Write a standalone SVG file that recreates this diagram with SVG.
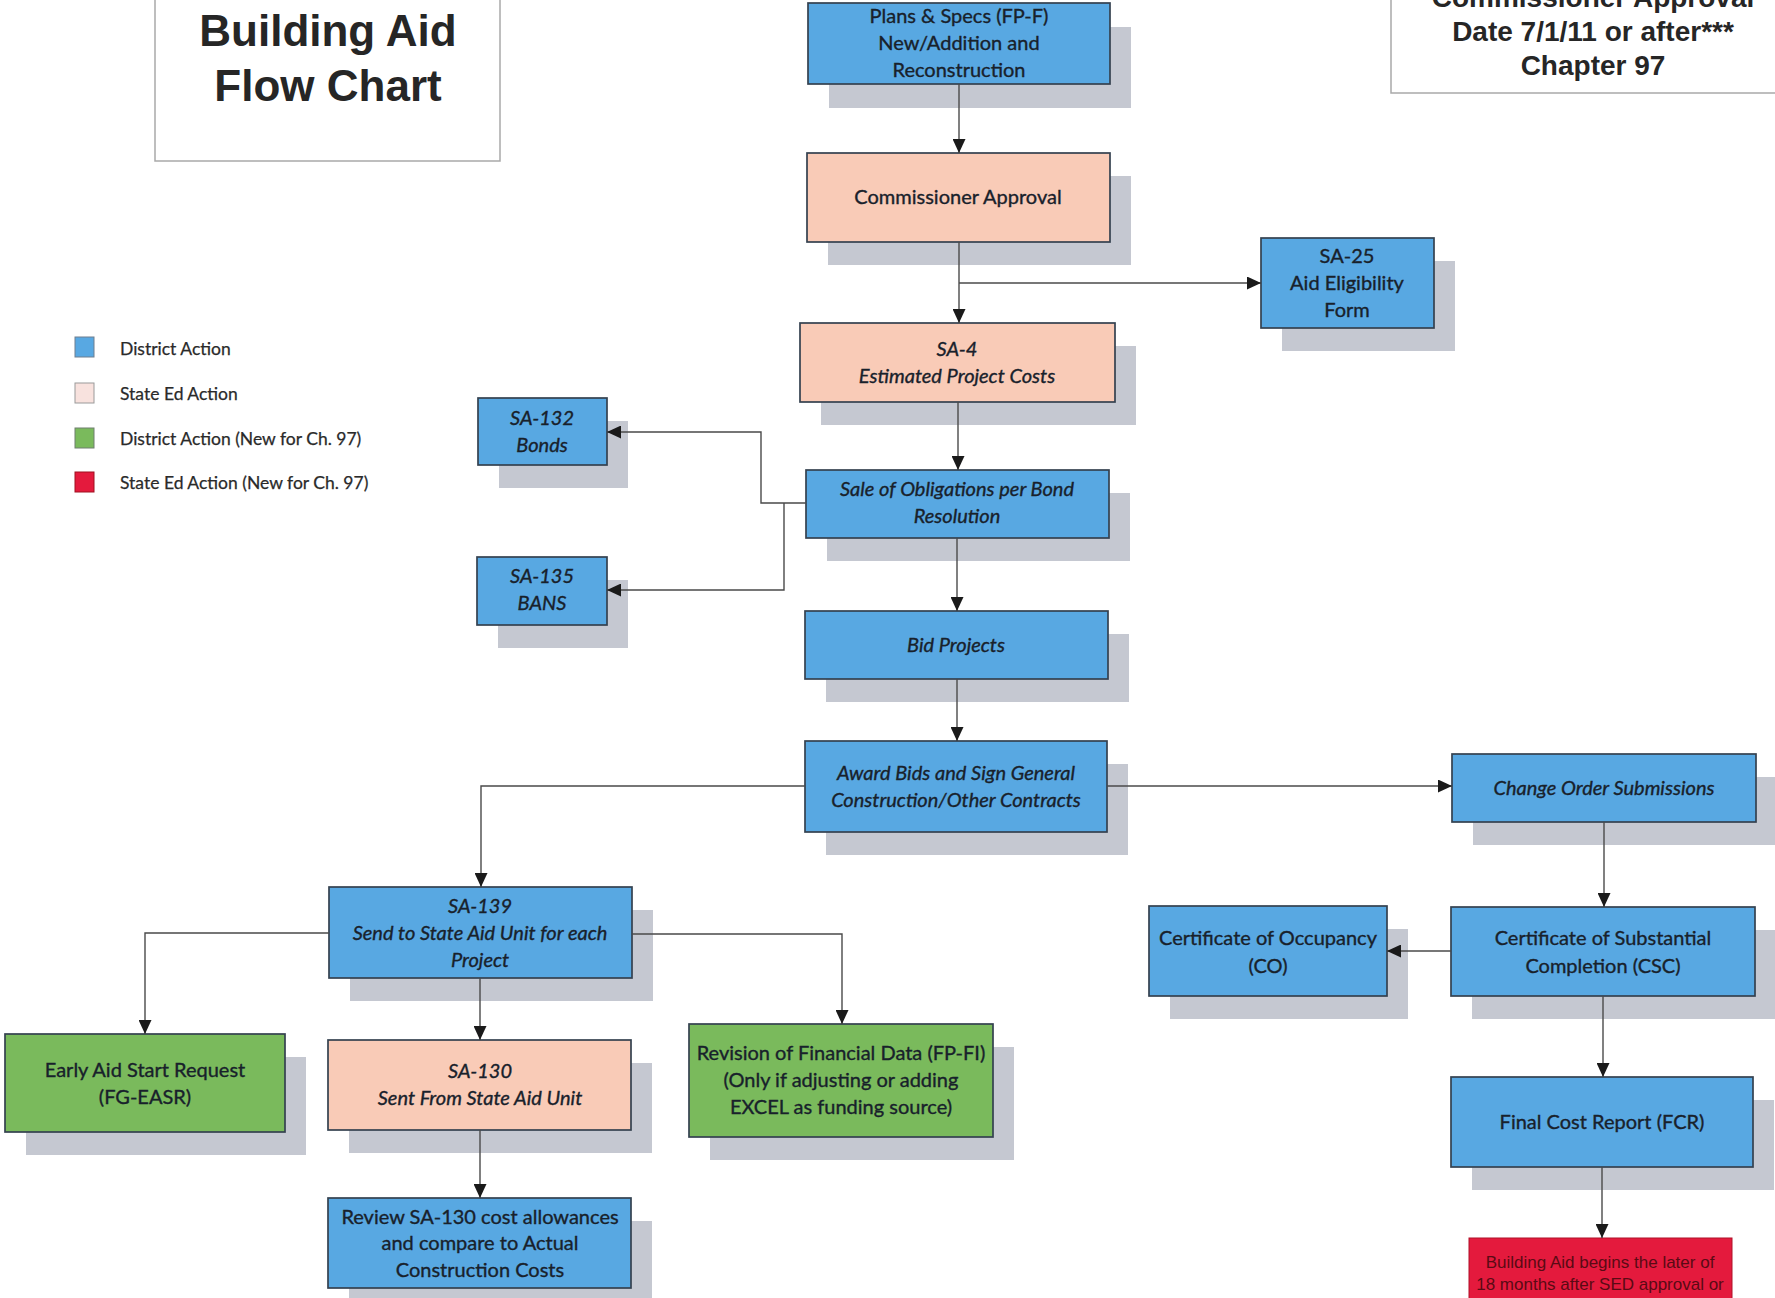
<svg xmlns="http://www.w3.org/2000/svg" width="1775" height="1298" viewBox="0 0 1775 1298">
<defs>
<style>
.sh{fill:#c5c8d1}
.bx{stroke:#34414f;stroke-width:1.7}
.blue{fill:#58a8e2}
.pink{fill:#f9cbb7}
.green{fill:#7aba5c}
.red{fill:#e41a3d}
.t{font-family:Lato,"Liberation Sans",sans-serif;font-size:20px;fill:#18212b;stroke:#18212b;stroke-width:0.35px;text-anchor:middle}
.i{font-style:italic}
.title{font-family:"Liberation Sans",Arial,sans-serif;font-weight:bold;fill:#262626;text-anchor:middle}
.lg{font-family:Lato,"Liberation Sans",sans-serif;font-size:17.5px;fill:#2a2a2a;stroke:#2a2a2a;stroke-width:0.25px}
.rt{font-family:"Liberation Sans",Arial,sans-serif;font-size:17px;fill:#5a0a14;text-anchor:middle}
.conn{stroke:#4a4a4a;stroke-width:1.4;fill:none;marker-end:url(#arr)}
</style>
<marker id="arr" markerUnits="userSpaceOnUse" markerWidth="14" markerHeight="13" viewBox="0 0 14 13" refX="14" refY="6.5" orient="auto">
<path d="M0,0 L14,6.5 L0,13 z" fill="#1a1a1a"/>
</marker>
</defs>
<rect width="1775" height="1298" fill="#ffffff"/>

<g id="title">
<rect x="155" y="-5" width="345" height="166" fill="#fff" stroke="#a9a9a9" stroke-width="1.5"/>
<text class="title" x="328" y="46" font-size="44">Building Aid</text>
<text class="title" x="328" y="101" font-size="44">Flow Chart</text>
</g>

<g id="chapter-box">
<rect x="1391" y="-5" width="400" height="98" fill="#fff" stroke="#a9a9a9" stroke-width="1.5"/>
<text class="title" x="1593" y="7" font-size="28">Commissioner Approval</text>
<text class="title" x="1593" y="41" font-size="28">Date 7/1/11 or after***</text>
<text class="title" x="1593" y="75" font-size="28">Chapter 97</text>
</g>

<g id="legend">
<rect x="75" y="337" width="19" height="20" fill="#58a8e2" stroke="#6f7f8f" stroke-width="1"/>
<text class="lg" x="120" y="355">District Action</text>
<rect x="75" y="383" width="19" height="20" fill="#f8e2de" stroke="#9a9a9a" stroke-width="1"/>
<text class="lg" x="120" y="400">State Ed Action</text>
<rect x="75" y="428" width="19" height="20" fill="#7aba5c" stroke="#6f7f6f" stroke-width="1"/>
<text class="lg" x="120" y="445">District Action (New for Ch. 97)</text>
<rect x="75" y="472" width="19" height="20" fill="#e41a3d" stroke="#a01020" stroke-width="1"/>
<text class="lg" x="120" y="489">State Ed Action (New for Ch. 97)</text>
</g>

<g id="plans">
<rect class="sh" x="829" y="27" width="302" height="81"/>
<rect class="bx blue" x="808" y="3" width="302" height="81"/>
<text class="t" x="959" y="23">Plans &amp; Specs (FP-F)</text>
<text class="t" x="959" y="50">New/Addition and</text>
<text class="t" x="959" y="77">Reconstruction</text>
</g>

<g id="commissioner">
<rect class="sh" x="828" y="176" width="303" height="89"/>
<rect class="bx pink" x="807" y="153" width="303" height="89"/>
<text class="t" x="958" y="204">Commissioner Approval</text>
</g>

<g id="sa25">
<rect class="sh" x="1282" y="261" width="173" height="90"/>
<rect class="bx blue" x="1261" y="238" width="173" height="90"/>
<text class="t" x="1347" y="263">SA-25</text>
<text class="t" x="1347" y="290">Aid Eligibility</text>
<text class="t" x="1347" y="317">Form</text>
</g>

<g id="sa4">
<rect class="sh" x="821" y="346" width="315" height="79"/>
<rect class="bx pink" x="800" y="323" width="315" height="79"/>
<text class="t i" x="957" y="356">SA-4</text>
<text class="t i" x="957" y="383">Estimated Project Costs</text>
</g>

<g id="sa132">
<rect class="sh" x="499" y="421" width="129" height="67"/>
<rect class="bx blue" x="478" y="398" width="129" height="67"/>
<text class="t i" x="542" y="425">SA-132</text>
<text class="t i" x="542" y="452">Bonds</text>
</g>

<g id="sale">
<rect class="sh" x="827" y="493" width="303" height="68"/>
<rect class="bx blue" x="806" y="470" width="303" height="68"/>
<text class="t i" x="957" y="496">Sale of Obligations per Bond</text>
<text class="t i" x="957" y="523">Resolution</text>
</g>

<g id="sa135">
<rect class="sh" x="498" y="580" width="130" height="68"/>
<rect class="bx blue" x="477" y="557" width="130" height="68"/>
<text class="t i" x="542" y="583">SA-135</text>
<text class="t i" x="542" y="610">BANS</text>
</g>

<g id="bid">
<rect class="sh" x="826" y="634" width="303" height="68"/>
<rect class="bx blue" x="805" y="611" width="303" height="68"/>
<text class="t i" x="956" y="652">Bid Projects</text>
</g>

<g id="award">
<rect class="sh" x="826" y="764" width="302" height="91"/>
<rect class="bx blue" x="805" y="741" width="302" height="91"/>
<text class="t i" x="956" y="780">Award Bids and Sign General</text>
<text class="t i" x="956" y="807">Construction/Other Contracts</text>
</g>

<g id="change-order">
<rect class="sh" x="1473" y="777" width="304" height="68"/>
<rect class="bx blue" x="1452" y="754" width="304" height="68"/>
<text class="t i" x="1604" y="795">Change Order Submissions</text>
</g>

<g id="sa139">
<rect class="sh" x="350" y="910" width="303" height="91"/>
<rect class="bx blue" x="329" y="887" width="303" height="91"/>
<text class="t i" x="480" y="913">SA-139</text>
<text class="t i" x="480" y="940">Send to State Aid Unit for each</text>
<text class="t i" x="480" y="967">Project</text>
</g>

<g id="co">
<rect class="sh" x="1170" y="929" width="238" height="90"/>
<rect class="bx blue" x="1149" y="906" width="238" height="90"/>
<text class="t" x="1268" y="945">Certificate of Occupancy</text>
<text class="t" x="1268" y="973">(CO)</text>
</g>

<g id="csc">
<rect class="sh" x="1472" y="930" width="304" height="89"/>
<rect class="bx blue" x="1451" y="907" width="304" height="89"/>
<text class="t" x="1603" y="945">Certificate of Substantial</text>
<text class="t" x="1603" y="973">Completion (CSC)</text>
</g>

<g id="early-aid">
<rect class="sh" x="26" y="1057" width="280" height="98"/>
<rect class="bx green" x="5" y="1034" width="280" height="98"/>
<text class="t" x="145" y="1077">Early Aid Start Request</text>
<text class="t" x="145" y="1104">(FG-EASR)</text>
</g>

<g id="sa130">
<rect class="sh" x="349" y="1063" width="303" height="90"/>
<rect class="bx pink" x="328" y="1040" width="303" height="90"/>
<text class="t i" x="480" y="1078">SA-130</text>
<text class="t i" x="480" y="1105">Sent From State Aid Unit</text>
</g>

<g id="revision">
<rect class="sh" x="710" y="1047" width="304" height="113"/>
<rect class="bx green" x="689" y="1024" width="304" height="113"/>
<text class="t" x="841" y="1060">Revision of Financial Data (FP-FI)</text>
<text class="t" x="841" y="1087">(Only if adjusting or adding</text>
<text class="t" x="841" y="1114">EXCEL as funding source)</text>
</g>

<g id="fcr">
<rect class="sh" x="1472" y="1100" width="302" height="90"/>
<rect class="bx blue" x="1451" y="1077" width="302" height="90"/>
<text class="t" x="1602" y="1129">Final Cost Report (FCR)</text>
</g>

<g id="review">
<rect class="sh" x="349" y="1221" width="303" height="90"/>
<rect class="bx blue" x="328" y="1198" width="303" height="90"/>
<text class="t" x="480" y="1224">Review SA-130 cost allowances</text>
<text class="t" x="480" y="1250">and compare to Actual</text>
<text class="t" x="480" y="1277">Construction Costs</text>
</g>

<g id="building-aid-begins">
<rect class="red" x="1469" y="1238" width="263" height="80" stroke="#b01028" stroke-width="1"/>
<text class="rt" x="1600" y="1268">Building Aid begins the later of</text>
<text class="rt" x="1600" y="1290">18 months after SED approval or</text>
</g>

<g id="connectors">
<path class="conn" d="M959,84 V153"/>
<path class="conn" d="M959,242 V323"/>
<path class="conn" d="M959,283 H1261"/>
<path class="conn" d="M958,402 V470"/>
<path class="conn" d="M806,503 H761 V432 H607"/>
<path class="conn" d="M784,503 V590 H607"/>
<path class="conn" d="M957,538 V611"/>
<path class="conn" d="M957,679 V741"/>
<path class="conn" d="M805,786 H481 V887"/>
<path class="conn" d="M1107,786 H1452"/>
<path class="conn" d="M1604,822 V907"/>
<path class="conn" d="M1451,951 H1387"/>
<path class="conn" d="M1603,996 V1077"/>
<path class="conn" d="M1602,1167 V1238"/>
<path class="conn" d="M329,933 H145 V1034"/>
<path class="conn" d="M480,978 V1040"/>
<path class="conn" d="M632,934 H842 V1024"/>
<path class="conn" d="M480,1130 V1198"/>
</g>
</svg>
